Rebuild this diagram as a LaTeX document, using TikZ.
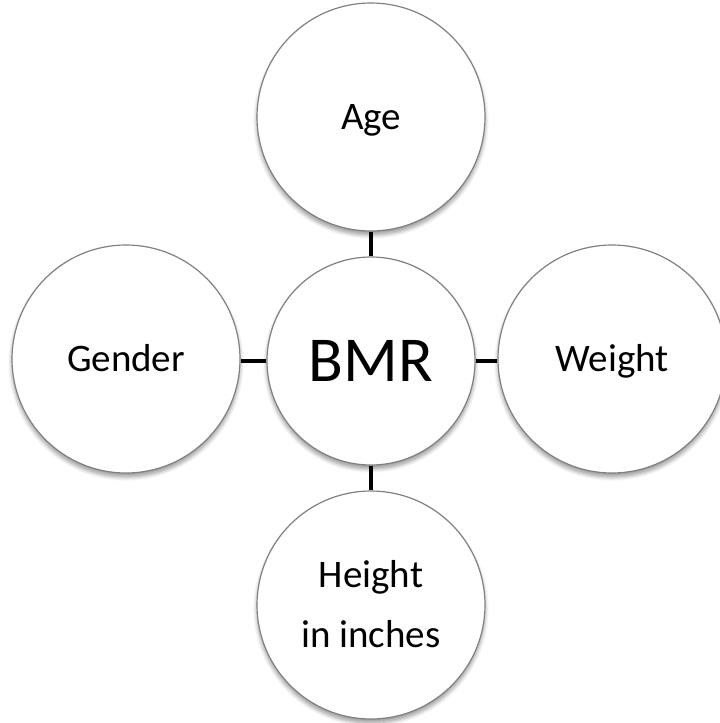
\documentclass[tikz,border=0pt]{standalone}
\usepackage{fontspec}
\setmainfont{Carlito}
\usetikzlibrary{shadows.blur}
\begin{document}
\begin{tikzpicture}[x=1pt,y=-1pt,
  bubble/.style={circle, draw=black!50, line width=1.2pt, fill=white, inner sep=0pt,
    minimum size=228pt, font=\fontsize{39}{60}\selectfont, align=center,
    text height=25pt, text depth=0pt,
    blur shadow={shadow xshift=0pt, shadow yshift=-4pt, shadow blur steps=6, shadow opacity=40, shadow blur radius=4pt}},
  hub/.style={bubble, minimum size=208pt, font=\fontsize{64}{70}\selectfont, text height=41pt},
  link/.style={line width=4pt, black}]
\useasboundingbox (0,0) rectangle (720,723);
\clip (0,0) rectangle (720,723);
\node[bubble] (age) at (371,117) {Age};
\node[bubble] (gender) at (126,359) {Gender};
\node[bubble] (weight) at (612,359) {Weight};
\node[bubble, text height=, text depth=] (height) at (371,605) {\raisebox{0pt}[24pt][0pt]{Height}\\\raisebox{0pt}[0pt][0pt]{in inches}};
\node[hub] (bmr) at (371,361) {BMR};
\draw[link] (age.south) -- (bmr.north);
\draw[link] (bmr.south) -- (height.north);
\draw[link] (bmr.west) -- (bmr.west -| gender.east);
\draw[link] (bmr.east) -- (bmr.east -| weight.west);
\end{tikzpicture}
\end{document}
